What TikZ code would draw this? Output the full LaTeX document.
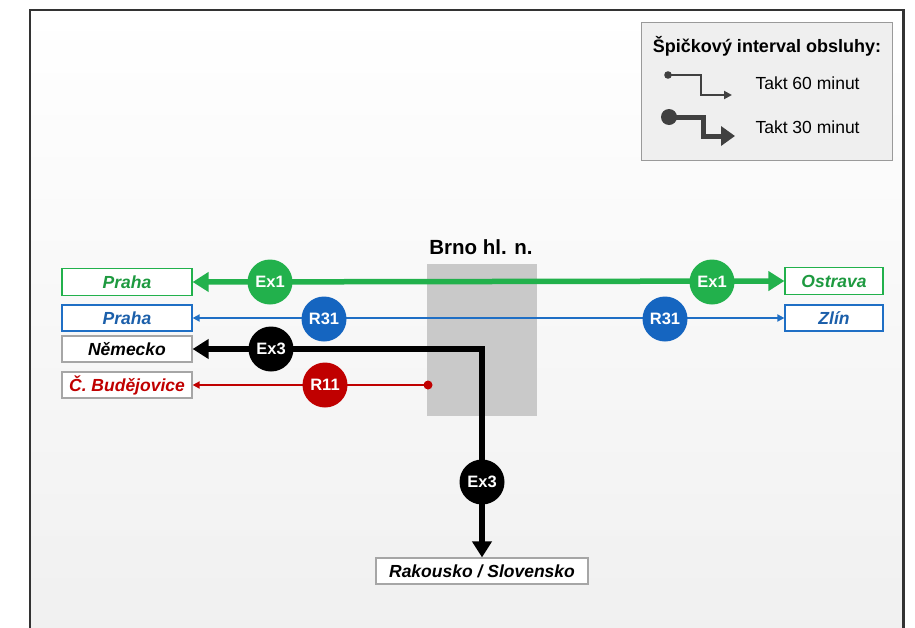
\documentclass[tikz,border=0pt]{standalone}
\usepackage{fontspec}
\setmainfont{Liberation Sans}
\usetikzlibrary{arrows.meta}

\definecolor{exgreen}{HTML}{22B14C}
\definecolor{txtgreen}{HTML}{1E9A40}
\definecolor{rblue}{HTML}{1F6FC5}
\definecolor{circblue}{HTML}{1565C0}
\definecolor{txtblue}{HTML}{1B5FAA}
\definecolor{rred}{HTML}{C00000}
\definecolor{boxgray}{HTML}{A6A6A6}
\definecolor{brnogray}{HTML}{C9C9C9}
\definecolor{legfill}{HTML}{EFEFEF}
\definecolor{legbord}{HTML}{9A9A9A}
\definecolor{leggray}{HTML}{404040}
\definecolor{framegray}{HTML}{333333}
\definecolor{bgbot}{HTML}{F0F0F0}

\tikzset{
  dest/.style={draw=#1, line width=1.2pt, fill=white, inner sep=0pt,
    minimum height=27pt, font=\fontsize{17.5}{20}\selectfont\bfseries\itshape},
  disc/.style={circle, fill=#1, inner sep=0pt, minimum size=45pt, text=white,
    font=\fontsize{16.5}{18}\selectfont\bfseries},
  bigtip/.tip={Triangle[length=16pt,width=19pt]},
  smalltip/.tip={Triangle[length=7pt,width=7pt]},
  thickline/.style={line width=5.5pt, line join=miter},
  thinline/.style={line width=1.8pt},
}

\begin{document}
\begin{tikzpicture}[x=1pt, y=-1pt]
\useasboundingbox (0,0) rectangle (915,627);

% slide background and frame
\shade[top color=white, bottom color=bgbot] (30,10) rectangle (903,640);
\draw[line width=2.5pt, framegray] (30,640) |- (903.5,10) -- (903.5,640);

% legend
\node[draw=legbord, line width=1pt, fill=legfill, minimum width=251pt, minimum height=138pt, inner sep=0pt] (legend) at (766.5,91) {};
\node[font=\fontsize{18}{20}\selectfont\bfseries] (legtitle) at (767,46) {Špičkový interval obsluhy:};
\draw[leggray, line width=2pt, -{Triangle[length=8pt,width=8pt]}] (668,75) -- (701,75) -- (701,95) -- (732,95);
\fill[leggray] (668,75) circle (3.8pt);
\draw[leggray, line width=5pt, line join=miter, -{Triangle[length=14pt,width=19pt]}] (669,117) -- (703,117) -- (703,136) -- (735,136);
\fill[leggray] (669,117) circle (8pt);
\node[anchor=west, font=\fontsize{17.5}{20}\selectfont] (leg60) at (752,83) {Takt 60 minut};
\node[anchor=west, font=\fontsize{17.5}{20}\selectfont] (leg30) at (752,127) {Takt 30 minut};

% station
\fill[brnogray] (427,264) rectangle (537,416);
\node[font=\fontsize{20.5}{22}\selectfont\bfseries] (brno) at (481,247) {Brno hl. n.};

% destination boxes
\node[dest=exgreen, text=txtgreen, minimum width=130pt] (praha1) at (127,282) {Praha};
\node[dest=exgreen, text=txtgreen, minimum width=98pt] (ostrava) at (834,281) {Ostrava};
\node[dest=rblue, text=txtblue, minimum width=130pt, minimum height=26pt] (praha2) at (127,318) {Praha};
\node[dest=rblue, text=txtblue, minimum width=98pt, minimum height=26pt] (zlin) at (834,318) {Zlín};
\node[dest=boxgray, text=black, minimum width=130pt, minimum height=26pt] (nemecko) at (127,349) {Německo};
\node[dest=boxgray, text=rred, minimum width=130pt, minimum height=26pt] (cbud) at (127,385) {Č. Budějovice};
\node[dest=boxgray, text=black, minimum width=212pt, minimum height=26pt] (rak) at (482,571) {Rakousko / Slovensko};

% lines
\draw[thickline, exgreen, bigtip-bigtip] (praha1.east) -- (ostrava.west);
\draw[thinline, rblue, smalltip-smalltip] (praha2.east) -- (zlin.west);
\draw[thickline, black, bigtip-bigtip] (nemecko.east) -| (rak.north);
\coordinate (r11end) at (428,385);
\draw[thinline, rred, -smalltip] (r11end) -- (cbud.east);
\fill[rred] (r11end) circle (4.5pt);

% line badges
\node[disc=exgreen] (ex1a) at (270,282) {Ex1};
\node[disc=exgreen] (ex1b) at (712,282) {Ex1};
\node[disc=circblue] (r31a) at (324,319) {R31};
\node[disc=circblue] (r31b) at (665,319) {R31};
\node[disc=black] (ex3a) at (271,349) {Ex3};
\node[disc=rred] (r11) at (325,385) {R11};
\node[disc=black] (ex3b) at (482,482) {Ex3};
\end{tikzpicture}
\end{document}
